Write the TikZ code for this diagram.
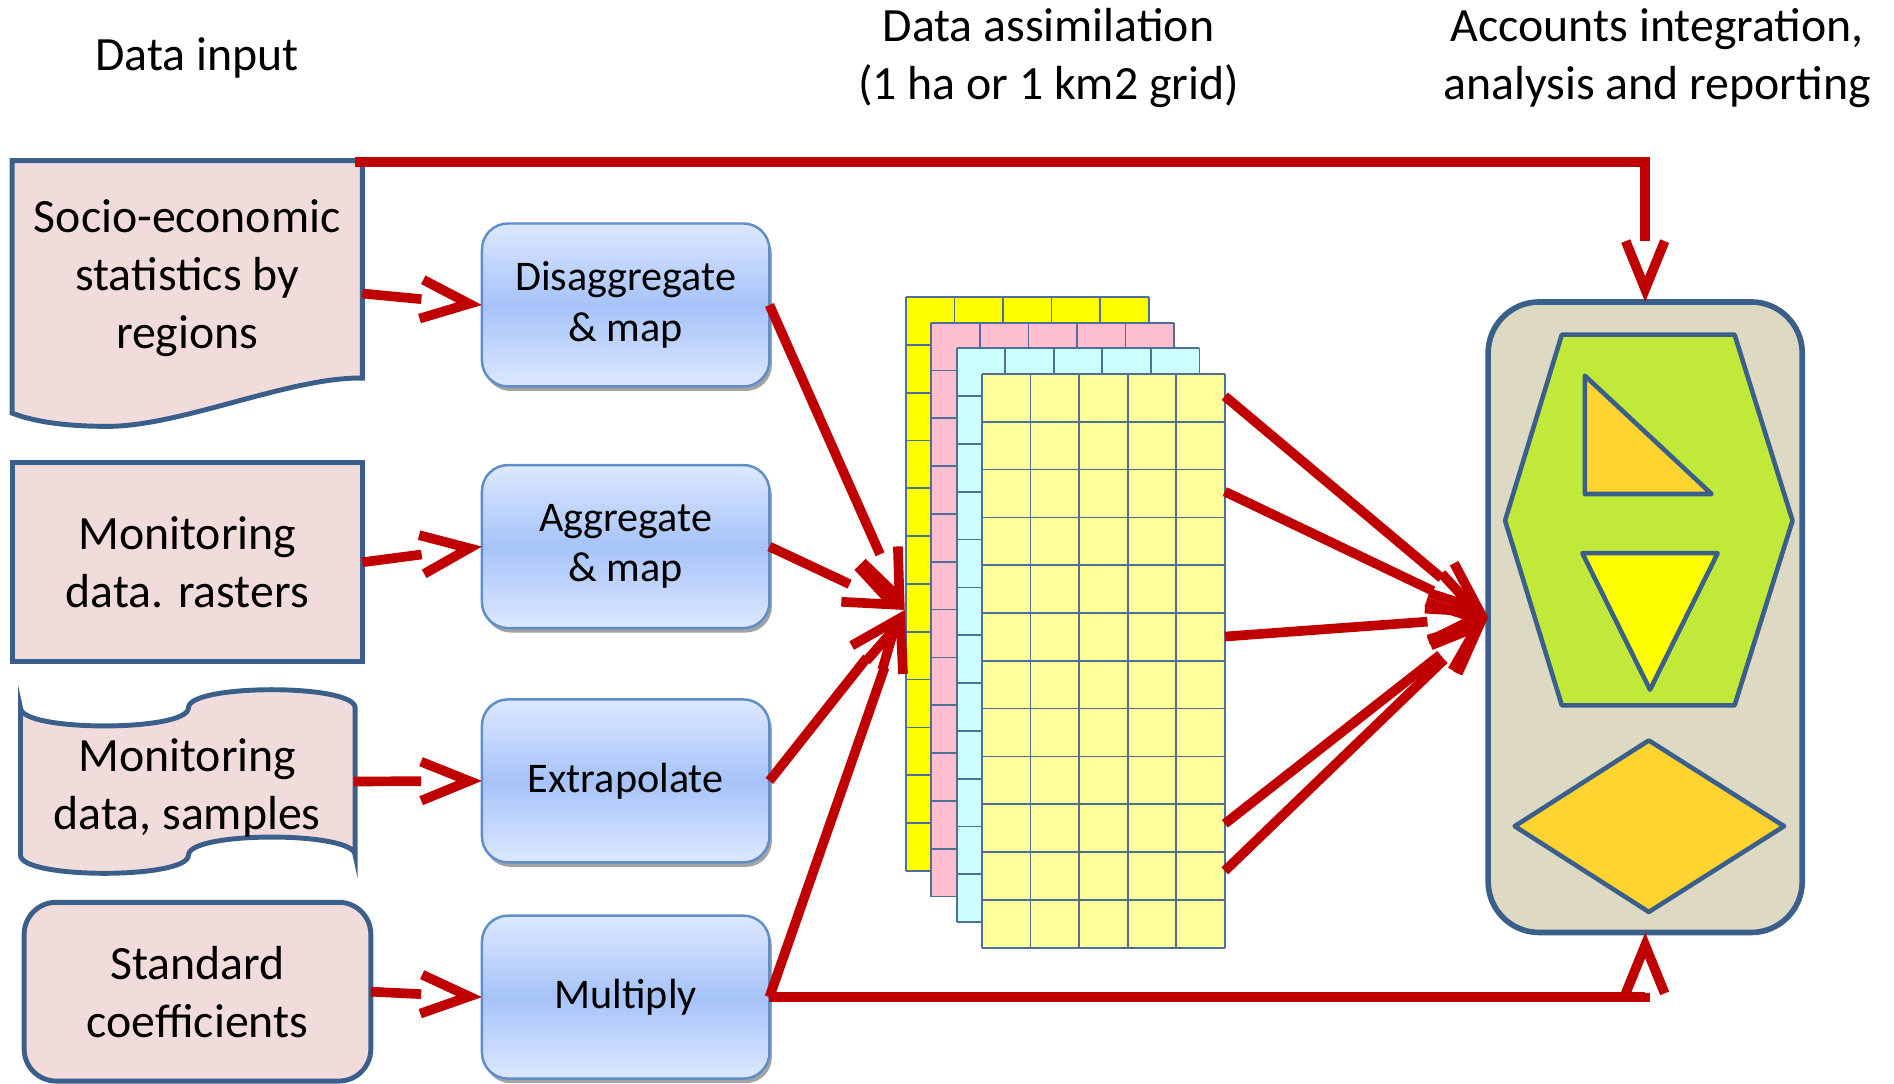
\documentclass[tikz,border=0pt]{standalone}
\usepackage{fontspec}
\setmainfont{Carlito}
\usetikzlibrary{arrows.meta, calc, shadows}

\definecolor{flowred}{HTML}{C00000}
\definecolor{srcfill}{HTML}{F2DCDB}
\definecolor{edgeblue}{HTML}{3A5F8B}
\definecolor{procedge}{HTML}{5F8DC9}
\definecolor{proctop}{HTML}{DDE8FE}
\definecolor{procmid}{HTML}{A6C3F9}
\definecolor{sheetA}{HTML}{FFFF00}
\definecolor{sheetB}{HTML}{FFBFD0}
\definecolor{sheetC}{HTML}{CCFFFF}
\definecolor{sheetD}{HTML}{FFFF99}
\definecolor{cellline}{HTML}{4F6F96}
\definecolor{panelfill}{HTML}{DDD9C3}
\definecolor{hexfill}{HTML}{C0E93A}
\definecolor{goldfill}{HTML}{FFD430}

% open V head, the shaft stops at the back of the V
\pgfdeclarearrow{
  name = Open Vee,
  parameters = {\the\pgfarrowlength,\the\pgfarrowwidth,\the\pgfarrowlinewidth},
  setup code = {
    \pgfarrowssettipend{1.33\pgfarrowlinewidth}
    \pgfarrowssetlineend{-\pgfarrowlength}
    \pgfarrowssetbackend{-\pgfarrowlength}
    \pgfarrowshullpoint{1.33\pgfarrowlinewidth}{0pt}
    \pgfarrowsupperhullpoint{-\pgfarrowlength}{.5\pgfarrowwidth}
    \pgfarrowssavethe\pgfarrowlength
    \pgfarrowssavethe\pgfarrowwidth
    \pgfarrowssavethe\pgfarrowlinewidth
  },
  drawing code = {
    \pgfsetlinewidth{\pgfarrowlinewidth}
    \pgfsetmiterjoin
    \pgfsetbuttcap
    \pgfpathmoveto{\pgfqpoint{-\pgfarrowlength}{.5\pgfarrowwidth}}
    \pgfpathlineto{\pgfpointorigin}
    \pgfpathlineto{\pgfqpoint{-\pgfarrowlength}{-.5\pgfarrowwidth}}
    \pgfusepathqstroke
  },
  defaults = {length=4.8mm, width=3.9mm, line width=+0pt 1 1}
}

\begin{document}
\begin{tikzpicture}[x=0.1208mm, y=-0.1208mm,
    every node/.style={font=\fontsize{13.6}{16.5}\selectfont, align=center},
    flow/.style={draw=flowred, line width=2.75pt, -{Open Vee}},
    srcline/.style={draw=edgeblue, line width=1.4pt, fill=srcfill},
    srcbox/.style={srcline, outer sep=0pt, inner sep=0pt},
    proc/.style={draw=procedge, line width=0.7pt, rounded corners=2.6mm,
      minimum width=28.75mm, minimum height=16.3mm, outer sep=0pt,
      top color=proctop, bottom color=proctop, middle color=procmid,
      drop shadow={shadow xshift=0.25mm, shadow yshift=-0.45mm, fill=black!45, opacity=.8},
      font=\fontsize{12}{14.4}\selectfont},
    cell/.style={draw=cellline, line width=0.5pt},
    shapeline/.style={draw=edgeblue, line width=1.3pt, line join=round},
    panelbox/.style={draw=edgeblue, line width=1.6pt, fill=panelfill, rounded corners=5.1mm,
      minimum width=31.41mm, minimum height=63.06mm, outer sep=0pt}]
  \useasboundingbox (0,0) rectangle (1568,897);

  % column headings
  \node (hdin) at (163,48) {Data input};
  \node (hdas) at (868,48) {Data assimilation\\(1 ha or 1 km2 grid)};
  \node (hdac) at (1372,48) {Accounts integration,\\analysis and reporting};

  % data input
  \draw[srcline] (10,133) -- (300,133) -- (300,313)
    .. controls (240,312) and (150,353) .. (89,353)
    .. controls (50,353) and (25,348) .. (10,342) -- cycle;
  \node (soc) at (155,230) {Socio-economic\\statistics by\\regions};
  \coordinate (soc-e) at (300,243);
  \coordinate (soc-ne) at (294,134);

  \node[srcbox, minimum width=35.03mm, minimum height=19.93mm] (ras) at (155,465.5) {Monitoring\\data. rasters};

  \draw[srcline] (17,586) .. controls (17,606) and (156,606) .. (156,586)
    .. controls (156,566) and (294,566) .. (294,586) -- (294,708)
    .. controls (294,688) and (156,688) .. (156,708)
    .. controls (156,728) and (17,728) .. (17,708) -- cycle;
  \node (smp) at (155,652) {Monitoring\\data, samples};
  \coordinate (smp-e) at (293,647);

  \node[srcbox, rounded corners=3.2mm, minimum width=34.67mm, minimum height=17.88mm] (coef) at (163.5,821) {Standard\\coefficients};

  % processing steps
  \node[proc] (dis) at (518,252.5) {Disaggregate\\\& map};
  \node[proc] (agg) at (518,452.5) {Aggregate\\\& map};
  \node[proc] (ext) at (518,646.5) {Extrapolate};
  \node[proc] (mul) at (518,825.5) {Multiply};

  % stacked grids
  \foreach \c [count=\k from 0] in {sheetA,sheetB,sheetC,sheetD} {
    \begin{scope}[shift={(750+21*\k,246+21.2*\k)}]
      \fill[\c] (0,0) rectangle (201,475);
      \foreach \i in {0,...,5} \draw[cell] (40.2*\i,0) -- (40.2*\i,475);
      \foreach \j in {0,...,12} \draw[cell] (0,39.58*\j) -- (201,39.58*\j);
    \end{scope}
  }
  \coordinate (gin) at (749,505);
  \foreach \y [count=\n] in {328,407,527,682,721} \coordinate (gout\n) at (1014,\y);

  % accounts panel
  \node[panelbox] (panel) at (1362,511) {};
  \draw[shapeline, fill=hexfill] (1293,277) -- (1436,277) -- (1484,431) -- (1436,584) -- (1293,584) -- (1246,431) -- cycle;
  \draw[shapeline, fill=goldfill] (1312,311) -- (1312,409) -- (1417,409) -- cycle;
  \draw[shapeline, fill=sheetA] (1310,458) -- (1422,458) -- (1366,571) -- cycle;
  \draw[shapeline, fill=goldfill] (1254,684) -- (1365,613) -- (1477,684) -- (1365,755) -- cycle;

  % flows
  \draw[flow] (soc-e) -- (dis.west);
  \draw[flow] (ras.east) -- (agg.west);
  \draw[flow] (smp-e) -- (ext.west);
  \draw[flow] (coef.east) -- (mul.west);
  \foreach \b in {dis,agg,ext,mul} \draw[flow] (\b.east) -- (gin);
  \foreach \n in {1,...,5} \draw[flow] (gout\n) -- (panel.west);
  \draw[flow] (soc-ne) -| (panel.north);
  \draw[flow] (mul.east) -| (panel.south);
\end{tikzpicture}
\end{document}
